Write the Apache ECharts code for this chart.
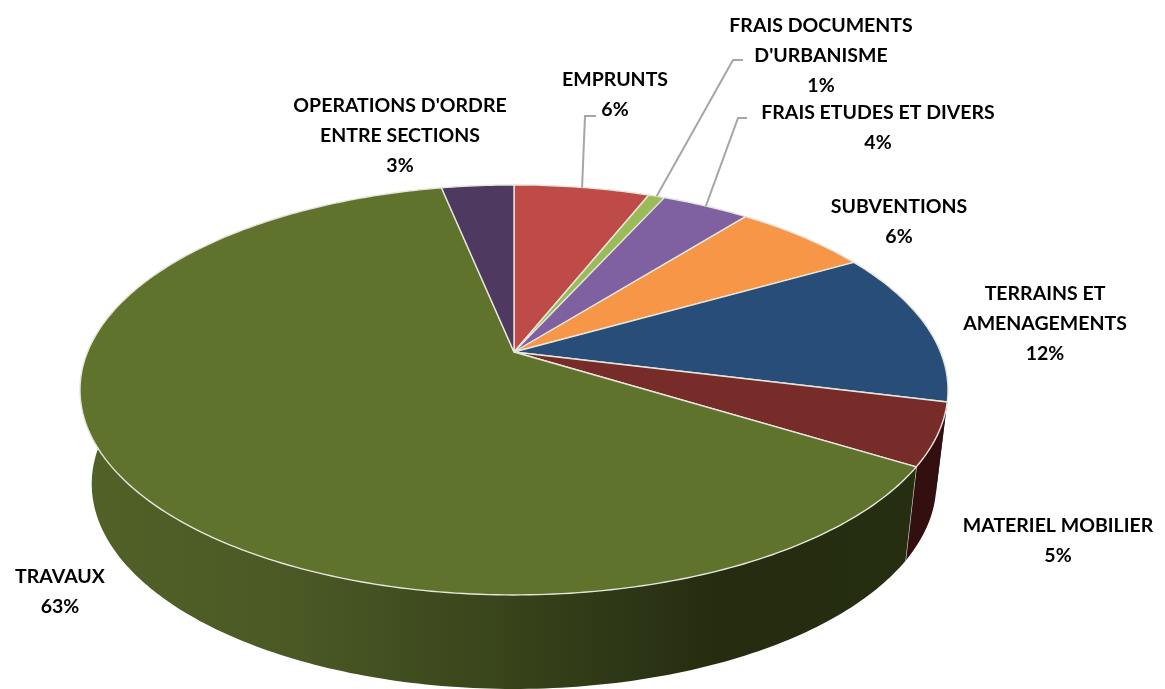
<!DOCTYPE html>
<html>
<head>
<meta charset="utf-8">
<style>
  html, body { margin: 0; padding: 0; background: #fff; }
  #chart { width: 1165px; height: 689px; }
</style>
<script src="https://cdn.jsdelivr.net/npm/echarts@6/dist/echarts.min.js"></script>
</head>
<body>
<div id="chart"></div>
<script>
// values estimated from the slice boundaries in the picture, in percent
const categories = ['EMPRUNTS', 'FRAIS DOCUMENTS\nD\'URBANISME', 'FRAIS ETUDES ET DIVERS', 'SUBVENTIONS',
  'TERRAINS ET\nAMENAGEMENTS', 'MATERIEL MOBILIER', 'TRAVAUX', 'OPERATIONS D\'ORDRE\nENTRE SECTIONS']
const values = [6.04, 0.72, 3.92, 6.1, 12.1, 4.9, 63.0, 3.22]
const percentLabels = ['6%', '1%', '4%', '6%', '12%', '5%', '63%', '3%']
const topColors = ['#be4b48', '#9bbb59', '#7f60a0', '#f79646', '#274d78', '#772c2a', '#5f732d', '#4e3a60']
const wallColors = ['#7f3230', '#677d3b', '#54406b', '#a5642f', '#1a3350', '#330f0f', '#3f4c1e', '#342640']

// where each label sits, and which ones get a leader line
const labelCenters = [[615, 95], [821, 56], [878, 128], [899, 222], [1045, 324], [1058, 541], [60, 592], [400, 136]]
const leaderElbows = {
  0: [[596, 116], [585, 116]],
  1: [[743, 60], [733, 60]],
  2: [[747, 118], [738, 118]]
}

const total = values.reduce((a, b) => a + b, 0)
const starts = []
values.reduce((sum, v, i) => { starts[i] = sum; return sum + v }, 0)

// the disc is a circle seen in perspective: apex at (cx, cy), front edge stretched
const cx = 514
const cy = 352
const radiusX = 426.5
const radiusY = 198
const tilt = 0.185
const depth = 94
const bottomScale = 0.973

function topPoint (share) {
  let t = share / total * Math.PI * 2
  let u = Math.sin(t)
  let v = -Math.cos(t)
  let d = 1 - tilt * v
  return [cx + radiusX * u / d, cy + radiusY * v / d]
}

function bottomPoint (share) {
  let p = topPoint(share)
  return [cx + (p[0] - cx) * bottomScale, p[1] + depth]
}

function arc (from, to, fn) {
  let pts = []
  let steps = Math.max(2, Math.ceil((to - from) * 4))
  for (let i = 0; i <= steps; i++) {
    pts.push(fn(from + (to - from) * i / steps))
  }
  return pts
}

const wallGradient = new echarts.graphic.LinearGradient(90, 0, 910, 0, [
  { offset: 0, color: '#526127' },
  { offset: 0.26, color: '#4a5825' },
  { offset: 0.48, color: '#3a461b' },
  { offset: 0.67, color: '#2c3515' },
  { offset: 0.77, color: '#252c0f' },
  { offset: 1, color: '#262e11' }
], true)

function renderWall (params, api) {
  let i = params.dataIndex
  let from = starts[i]
  let to = from + api.value(0)
  let top = arc(from, to, topPoint)
  let bottom = arc(from, to, bottomPoint).reverse()
  return {
    type: 'group',
    children: [{
      type: 'polygon',
      shape: { points: top.concat(bottom) },
      style: { fill: categories[i] === 'TRAVAUX' ? wallGradient : wallColors[i] }
    }, {
      type: 'line',
      shape: { x1: topPoint(to)[0], y1: topPoint(to)[1], x2: bottomPoint(to)[0], y2: bottomPoint(to)[1] },
      style: { stroke: '#d9d9d0', lineWidth: 1.2 },
      invisible: i !== 5 && i !== 6 ? true : i === 6
    }]
  }
}

function renderTop (params, api) {
  let i = params.dataIndex
  let from = starts[i]
  let to = from + api.value(0)
  return {
    type: 'polygon',
    shape: { points: [[cx, cy]].concat(arc(from, to, topPoint)) },
    style: { fill: topColors[i], stroke: '#e6e6dc', lineWidth: 1.4, lineJoin: 'round' }
  }
}

function renderLabel (params, api) {
  let i = params.dataIndex
  let center = labelCenters[i]
  let children = [{
    type: 'text',
    style: {
      x: center[0],
      y: center[1],
      text: categories[i] + '\n' + percentLabels[i],
      fill: '#000',
      font: 'bold 19.5px Lato',
      align: 'center',
      verticalAlign: 'middle',
      lineHeight: 30
    }
  }]
  if (leaderElbows[i]) {
    let end = topPoint(starts[i] + api.value(0) / 2)
    children.push({
      type: 'polyline',
      shape: { points: leaderElbows[i].concat([end]) },
      style: { stroke: '#a6a6a6', lineWidth: 2, fill: null }
    })
  }
  return { type: 'group', children: children }
}

const chart = echarts.init(document.getElementById('chart'), null, { renderer: 'canvas' })
const seriesData = values.map((v, i) => ({ name: categories[i], value: v }))
chart.setOption({
  animation: false,
  series: [
    { type: 'custom', coordinateSystem: 'none', z: 1, silent: true, renderItem: renderWall, data: seriesData },
    { type: 'custom', coordinateSystem: 'none', z: 2, silent: true, renderItem: renderTop, data: seriesData },
    { type: 'custom', coordinateSystem: 'none', z: 3, silent: true, renderItem: renderLabel, data: seriesData }
  ]
})
</script>
</body>
</html>
